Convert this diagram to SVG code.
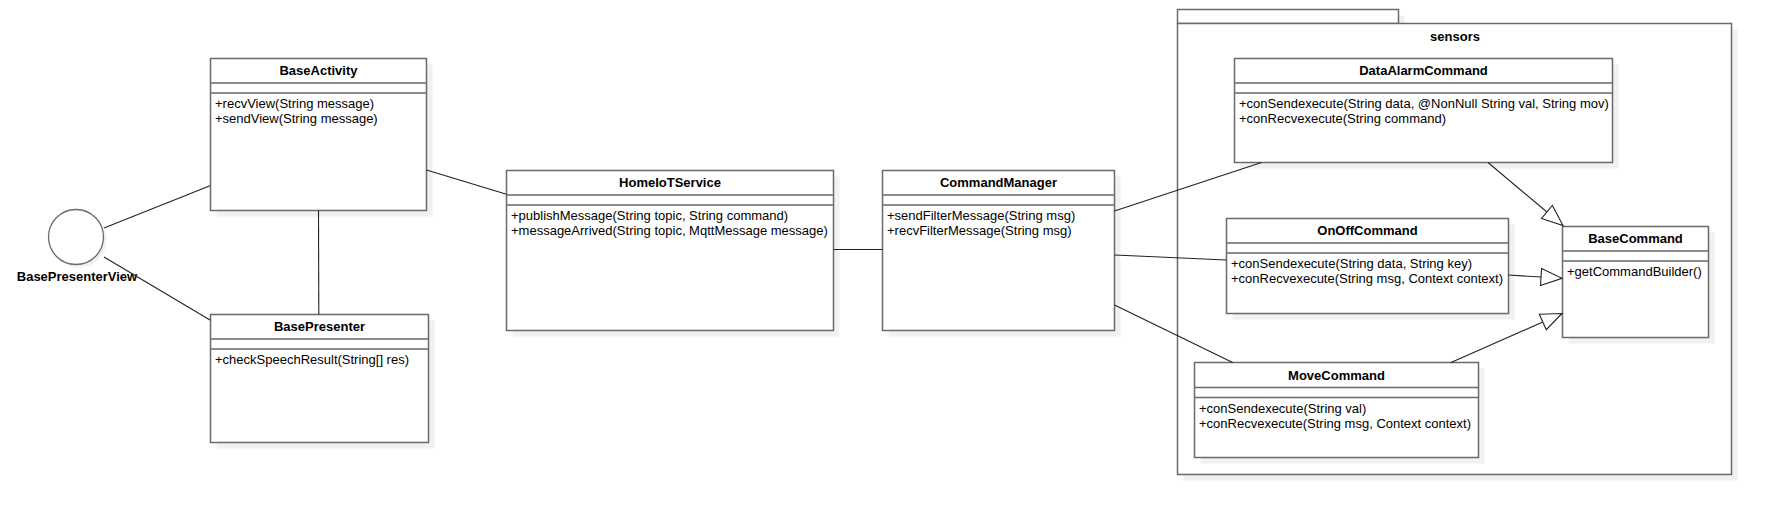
<svg xmlns="http://www.w3.org/2000/svg" width="1770" height="514" viewBox="0 0 1770 514">
<style>
.bg{fill:#ffffff}
.sh{fill:#f1f1f1;stroke:none}
.box{fill:#ffffff;stroke:#6a6a6a;stroke-width:1.5}
.sep{stroke:#6a6a6a;stroke-width:1.5;fill:none}
.t{font-family:"Liberation Sans",Arial,sans-serif;font-size:13px;font-weight:bold;fill:#000;text-anchor:middle}
.m{font-family:"Liberation Sans",Arial,sans-serif;font-size:13px;fill:#000}
.c{stroke:#222;stroke-width:1.1;fill:none}
</style>
<defs>
<marker id="gen" markerUnits="userSpaceOnUse" markerWidth="24" markerHeight="20" refX="21" refY="8.5" orient="auto" overflow="visible">
<path d="M0,0 L21,8.5 L0,17 Z" fill="#fff" stroke="#222" stroke-width="1.1"/>
</marker>
</defs>
<rect class="bg" x="0" y="0" width="1770" height="514"/>

<g id="sensors">
<rect class="sh" x="1183.5" y="15.5" width="221" height="14"/>
<rect class="sh" x="1183.5" y="29.5" width="554" height="451"/>
<rect class="box" x="1177.5" y="9.5" width="221" height="14"/>
<rect class="box" x="1177.5" y="23.5" width="554" height="451"/>
<text class="t" x="1455" y="41">sensors</text>
</g>

<g id="BasePresenterView">
<circle cx="79" cy="240" r="27.5" fill="#f1f1f1"/>
<circle cx="76" cy="237" r="27.5" fill="#fff" stroke="#6a6a6a" stroke-width="1.3"/>
<text class="t" x="77" y="281">BasePresenterView</text>
</g>

<g id="BaseActivity">
<rect class="sh" x="216.5" y="64.5" width="216" height="152"/>
<rect class="box" x="210.5" y="58.5" width="216" height="152"/>
<path class="sep" d="M210.5,83 H426.5 M210.5,93 H426.5"/>
<text class="t" x="318.5" y="75">BaseActivity</text>
<text class="m" x="215" y="108">+recvView(String message)</text>
<text class="m" x="215" y="123">+sendView(String message)</text>
</g>

<g id="BasePresenter">
<rect class="sh" x="216.5" y="320.5" width="218" height="128"/>
<rect class="box" x="210.5" y="314.5" width="218" height="128"/>
<path class="sep" d="M210.5,339 H428.5 M210.5,349 H428.5"/>
<text class="t" x="319.5" y="331">BasePresenter</text>
<text class="m" x="215" y="364">+checkSpeechResult(String[] res)</text>
</g>

<g id="HomeIoTService">
<rect class="sh" x="512.5" y="176.5" width="327" height="160"/>
<rect class="box" x="506.5" y="170.5" width="327" height="160"/>
<path class="sep" d="M506.5,195 H833.5 M506.5,205 H833.5"/>
<text class="t" x="670" y="187">HomeIoTService</text>
<text class="m" x="511" y="220">+publishMessage(String topic, String command)</text>
<text class="m" x="511" y="235">+messageArrived(String topic, MqttMessage message)</text>
</g>

<g id="CommandManager">
<rect class="sh" x="888.5" y="176.5" width="232" height="160"/>
<rect class="box" x="882.5" y="170.5" width="232" height="160"/>
<path class="sep" d="M882.5,195 H1114.5 M882.5,205 H1114.5"/>
<text class="t" x="998.5" y="187">CommandManager</text>
<text class="m" x="887" y="220">+sendFilterMessage(String msg)</text>
<text class="m" x="887" y="235">+recvFilterMessage(String msg)</text>
</g>

<g id="DataAlarmCommand">
<rect class="sh" x="1240.5" y="64.5" width="378" height="104"/>
<rect class="box" x="1234.5" y="58.5" width="378" height="104"/>
<path class="sep" d="M1234.5,83 H1612.5 M1234.5,93 H1612.5"/>
<text class="t" x="1423.5" y="75">DataAlarmCommand</text>
<text class="m" x="1239" y="108">+conSendexecute(String data, @NonNull String val, String mov)</text>
<text class="m" x="1239" y="123">+conRecvexecute(String command)</text>
</g>

<g id="OnOffCommand">
<rect class="sh" x="1232.5" y="224.5" width="282" height="95"/>
<rect class="box" x="1226.5" y="218.5" width="282" height="95"/>
<path class="sep" d="M1226.5,243 H1508.5 M1226.5,253 H1508.5"/>
<text class="t" x="1367.5" y="235">OnOffCommand</text>
<text class="m" x="1231" y="268">+conSendexecute(String data, String key)</text>
<text class="m" x="1231" y="283">+conRecvexecute(String msg, Context context)</text>
</g>

<g id="BaseCommand">
<rect class="sh" x="1568.5" y="232.5" width="146" height="111"/>
<rect class="box" x="1562.5" y="226.5" width="146" height="111"/>
<path class="sep" d="M1562.5,251 H1708.5 M1562.5,261 H1708.5"/>
<text class="t" x="1635.5" y="243">BaseCommand</text>
<text class="m" x="1567" y="276">+getCommandBuilder()</text>
</g>

<g id="MoveCommand">
<rect class="sh" x="1200.5" y="368.5" width="284" height="95"/>
<rect class="box" x="1194.5" y="362.5" width="284" height="95"/>
<path class="sep" d="M1194.5,387.5 H1478.5 M1194.5,397.5 H1478.5"/>
<text class="t" x="1336.5" y="379.5">MoveCommand</text>
<text class="m" x="1199" y="412.5">+conSendexecute(String val)</text>
<text class="m" x="1199" y="427.5">+conRecvexecute(String msg, Context context)</text>
</g>

<g id="connectors">
<line class="c" x1="104" y1="228" x2="210" y2="185.7"/>
<line class="c" x1="104" y1="257" x2="210" y2="320"/>
<line class="c" x1="318.5" y1="210.5" x2="318.8" y2="314.5"/>
<line class="c" x1="426.5" y1="170" x2="506.5" y2="194.3"/>
<line class="c" x1="833.5" y1="249.5" x2="882.5" y2="249.5"/>
<line class="c" x1="1114.5" y1="211" x2="1261.5" y2="162.5"/>
<line class="c" x1="1114.5" y1="255" x2="1226.5" y2="260"/>
<line class="c" x1="1114.5" y1="305" x2="1232.7" y2="362.5"/>
<line class="c" x1="1488" y1="162.5" x2="1563" y2="225.5" marker-end="url(#gen)"/>
<line class="c" x1="1508.5" y1="275" x2="1562" y2="278.3" marker-end="url(#gen)"/>
<line class="c" x1="1451" y1="362.5" x2="1562" y2="313.5" marker-end="url(#gen)"/>
</g>
</svg>
